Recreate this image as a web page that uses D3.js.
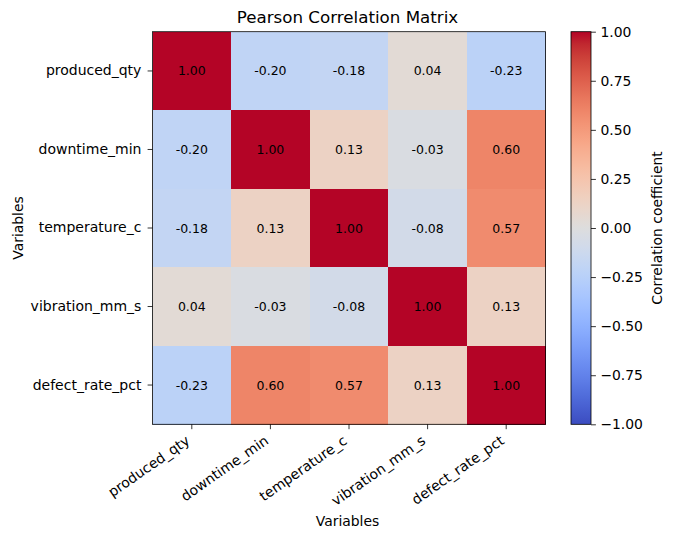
<!DOCTYPE html>
<html>
<head>
<meta charset="utf-8">
<script src="https://cdn.jsdelivr.net/npm/d3@7"></script>
<style>
  html, body { margin: 0; padding: 0; background: #fff; }
  svg { display: block; font-family: "DejaVu Sans", sans-serif; }
</style>
</head>
<body>
<svg id="chart" width="673" height="540"></svg>
<script>
// ---- Data ----
const variables = ["produced_qty", "downtime_min", "temperature_c", "vibration_mm_s", "defect_rate_pct"];
const rowProduced = [1.00, -0.20, -0.18, 0.04, -0.23];
const rowDowntime = [-0.20, 1.00, 0.13, -0.03, 0.60];
const rowTemperature = [-0.18, 0.13, 1.00, -0.08, 0.57];
const rowVibration = [0.04, -0.03, -0.08, 1.00, 0.13];
const rowDefect = [-0.23, 0.60, 0.57, 0.13, 1.00];
const colorbarTicks = [-1.00, -0.75, -0.50, -0.25, 0.00, 0.25, 0.50, 0.75, 1.00];
const titleText = "Pearson Correlation Matrix";
const xLabelText = "Variables";
const yLabelText = "Variables";
const cbLabelText = "Correlation coefficient";

const matrix = [rowProduced, rowDowntime, rowTemperature, rowVibration, rowDefect];

// ---- coolwarm colormap ----
const coolwarmStops = [
  [59,76,192],[68,90,204],[77,104,215],[87,117,225],[98,130,234],[108,142,241],[119,154,247],[130,165,251],
  [141,176,254],[152,185,255],[163,194,255],[174,201,253],[184,208,249],[194,213,244],[204,217,238],[213,219,230],
  [221,221,221],[229,216,209],[236,211,197],[241,204,185],[245,196,173],[247,187,160],[247,177,148],[247,166,135],
  [244,154,123],[241,141,111],[236,127,99],[229,112,88],[222,96,77],[213,80,66],[203,62,56],[192,40,47],[180,4,38]
].map(c => d3.rgb(c[0], c[1], c[2]).formatHex());
const coolwarm = d3.scaleLinear()
  .domain(d3.range(coolwarmStops.length).map(i => -1 + 2 * i / (coolwarmStops.length - 1)))
  .range(coolwarmStops)
  .interpolate(d3.interpolateRgb)
  .clamp(true);

// ---- Layout ----
const svg = d3.select("#chart");
const plot = { left: 152.5, right: 545.5, top: 31.7, bottom: 424.3 };
const cb = { left: 571, right: 591, top: 31.7, bottom: 424.3 };

const x = d3.scaleBand().domain(variables).range([plot.left, plot.right]).padding(0);
const y = d3.scaleBand().domain(variables).range([plot.top, plot.bottom]).padding(0);

const cells = [];
matrix.forEach((row, i) => row.forEach((v, j) => cells.push({ r: variables[i], c: variables[j], v })));

// cells
svg.append("g").selectAll("rect").data(cells).join("rect")
  .attr("x", d => x(d.c))
  .attr("y", d => y(d.r))
  .attr("width", x.bandwidth() + 0.5)
  .attr("height", y.bandwidth() + 0.5)
  .attr("fill", d => coolwarm(d.v))
  .attr("shape-rendering", "crispEdges");

// annotations
svg.append("g").selectAll("text").data(cells).join("text")
  .attr("x", d => x(d.c) + x.bandwidth() / 2)
  .attr("y", d => y(d.r) + y.bandwidth() / 2)
  .attr("dy", "0.36em")
  .attr("text-anchor", "middle")
  .attr("font-size", "12.5px")
  .attr("fill", "#000")
  .text(d => d.v.toFixed(2));

// frame
svg.append("rect")
  .attr("x", plot.left).attr("y", plot.top)
  .attr("width", plot.right - plot.left).attr("height", plot.bottom - plot.top)
  .attr("fill", "none").attr("stroke", "#000").attr("stroke-width", 0.8);

// x axis
const xAxis = svg.append("g").attr("transform", `translate(0,${plot.bottom})`)
  .call(d3.axisBottom(x).tickSize(4.9).tickPadding(0));
xAxis.select(".domain").remove();
xAxis.selectAll(".tick line").attr("stroke", "#000").attr("stroke-width", 0.8);
xAxis.selectAll(".tick text")
  .attr("font-size", "14px")
  .attr("font-family", "DejaVu Sans")
  .attr("fill", "#000")
  .attr("text-anchor", "end")
  .attr("dy", null)
  .attr("y", null)
  .attr("transform", "translate(-1,18.5) rotate(-35)");

// y axis
const yAxis = svg.append("g").attr("transform", `translate(${plot.left},0)`)
  .call(d3.axisLeft(y).tickSize(4.9).tickPadding(6.2));
yAxis.select(".domain").remove();
yAxis.selectAll(".tick line").attr("stroke", "#000").attr("stroke-width", 0.8);
yAxis.selectAll(".tick text")
  .attr("font-size", "14px")
  .attr("font-family", "DejaVu Sans")
  .attr("fill", "#000");

// title
svg.append("text")
  .attr("x", (plot.left + plot.right) / 2 - 1.5)
  .attr("y", 23)
  .attr("text-anchor", "middle")
  .attr("font-size", "16.7px")
  .attr("fill", "#000")
  .text(titleText);

// axis labels
svg.append("text")
  .attr("x", (plot.left + plot.right) / 2 - 1.5)
  .attr("y", 525.5)
  .attr("text-anchor", "middle")
  .attr("font-size", "13.9px")
  .attr("fill", "#000")
  .text(xLabelText);

svg.append("text")
  .attr("transform", `translate(22.5,${(plot.top + plot.bottom) / 2}) rotate(-90)`)
  .attr("text-anchor", "middle")
  .attr("font-size", "13.9px")
  .attr("fill", "#000")
  .text(yLabelText);

// colorbar
const defs = svg.append("defs");
const grad = defs.append("linearGradient").attr("id", "cbgrad")
  .attr("x1", "0").attr("y1", "1").attr("x2", "0").attr("y2", "0");
d3.range(0, 65).forEach(i => {
  const t = i / 64;
  grad.append("stop").attr("offset", t).attr("stop-color", coolwarm(-1 + 2 * t));
});
svg.append("rect")
  .attr("x", cb.left).attr("y", cb.top)
  .attr("width", cb.right - cb.left).attr("height", cb.bottom - cb.top)
  .attr("fill", "url(#cbgrad)");
svg.append("rect")
  .attr("x", cb.left).attr("y", cb.top)
  .attr("width", cb.right - cb.left).attr("height", cb.bottom - cb.top)
  .attr("fill", "none").attr("stroke", "#000").attr("stroke-width", 0.8);

const cbScale = d3.scaleLinear().domain([-1, 1]).range([cb.bottom, cb.top]);
const cbAxis = svg.append("g").attr("transform", `translate(${cb.right},0)`)
  .call(d3.axisRight(cbScale).tickValues(colorbarTicks).tickSize(4.9).tickPadding(4.5)
    .tickFormat(d => d3.format(".2f")(d).replace("-", "\u2212")));
cbAxis.select(".domain").remove();
cbAxis.selectAll(".tick line").attr("stroke", "#000").attr("stroke-width", 0.8);
cbAxis.selectAll(".tick text")
  .attr("font-size", "13.9px")
  .attr("font-family", "DejaVu Sans")
  .attr("fill", "#000");

svg.append("text")
  .attr("transform", `translate(661.5,${(cb.top + cb.bottom) / 2}) rotate(-90)`)
  .attr("text-anchor", "middle")
  .attr("font-size", "13.9px")
  .attr("fill", "#000")
  .text(cbLabelText);
</script>
</body>
</html>
